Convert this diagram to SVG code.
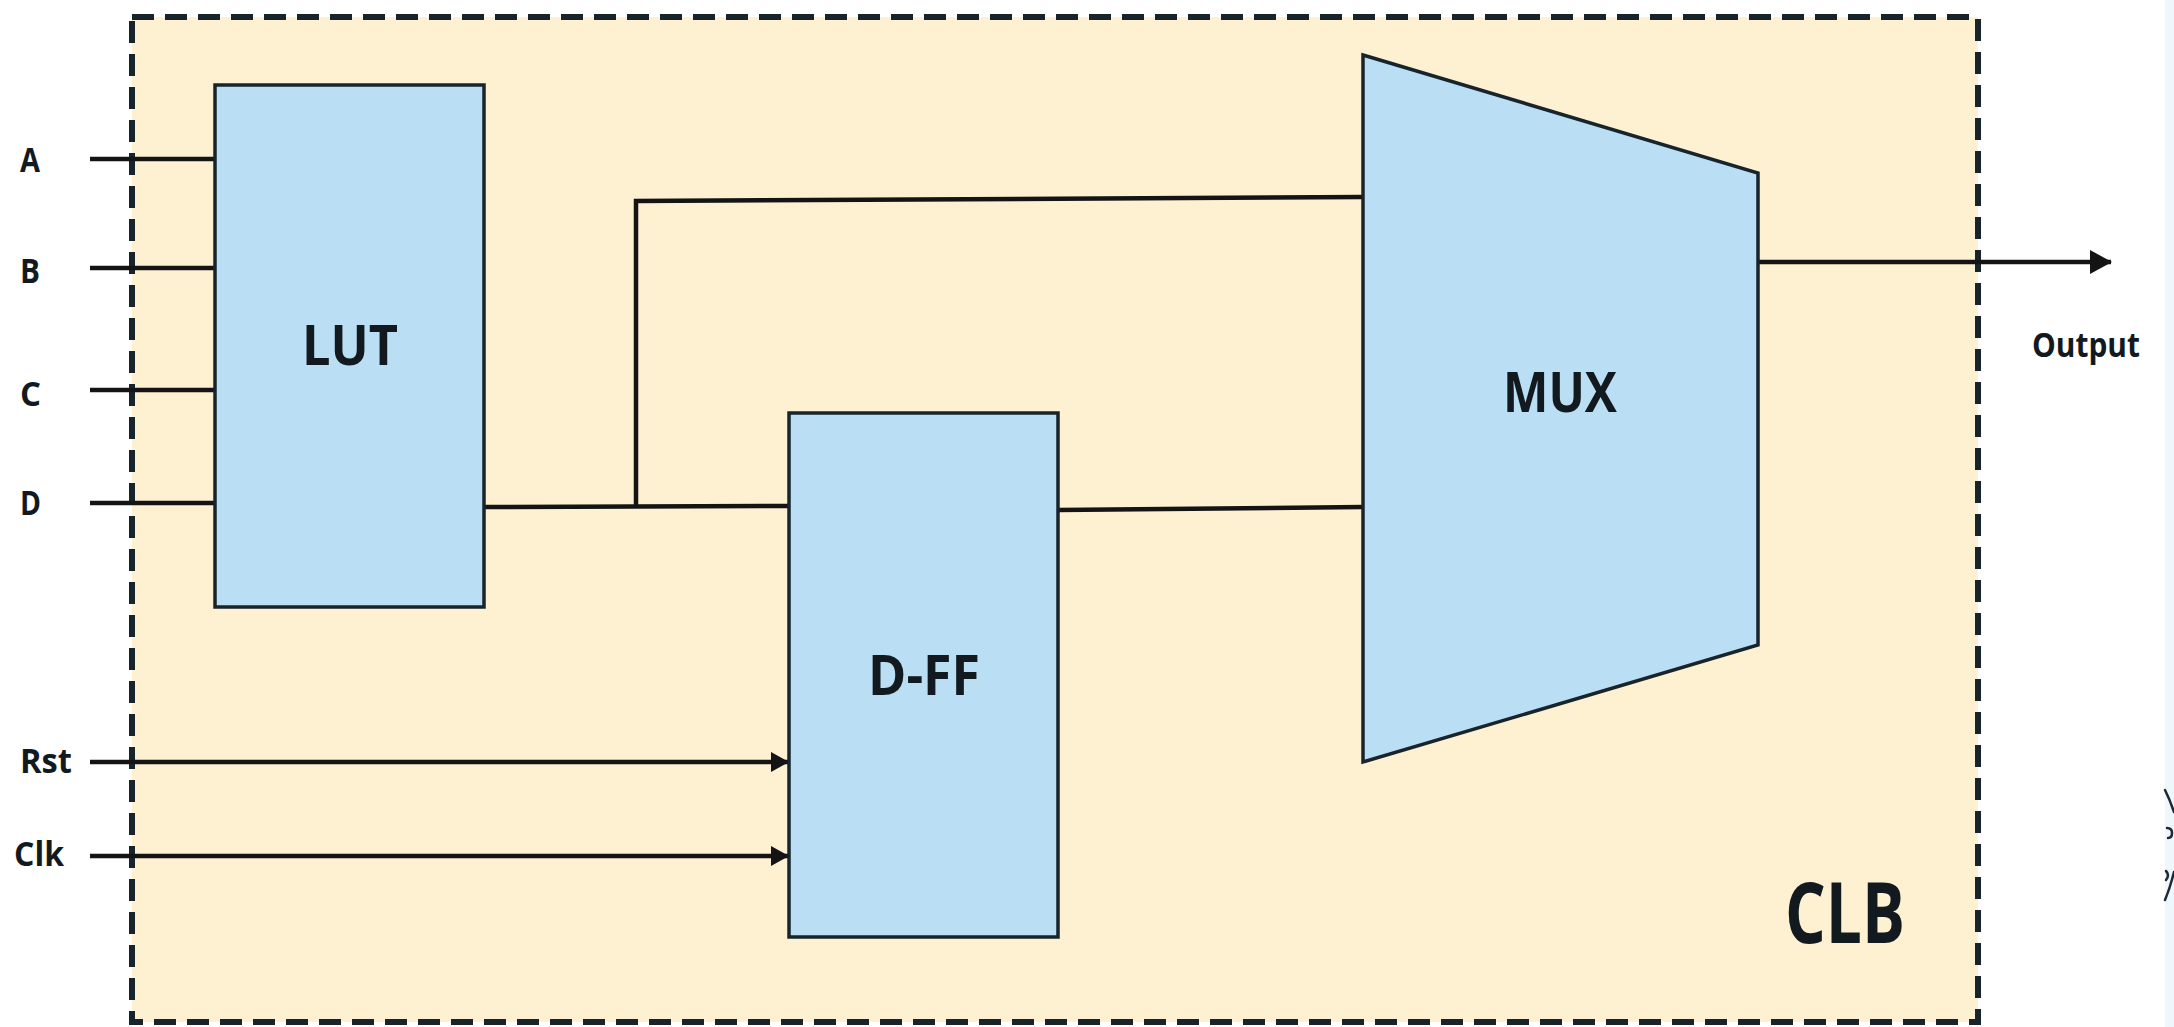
<svg xmlns="http://www.w3.org/2000/svg" width="2174" height="1027" viewBox="0 0 2174 1027">
<style>
.block{fill:#BADEF4;stroke:#17242b;stroke-width:3.5;stroke-linejoin:miter}
.wire{fill:none;stroke:#141414;stroke-width:4.5}
.lbl{font-family:"Open Sans","Noto Sans","Liberation Sans",sans-serif;font-weight:bold;fill:#121a1f}
.big{font-size:56px;text-anchor:start}
.pin{font-size:34px}
</style>
<defs>
<marker id="arr" markerUnits="userSpaceOnUse" viewBox="0 0 18 20" markerWidth="18" markerHeight="20" refX="17" refY="10" orient="auto">
<path d="M0,0 L18,10 L0,20 z" fill="#141414"/>
</marker>
<marker id="arrBig" markerUnits="userSpaceOnUse" viewBox="0 0 22 24" markerWidth="22" markerHeight="24" refX="21" refY="12" orient="auto">
<path d="M0,0 L22,12 L0,24 z" fill="#141414"/>
</marker>
</defs>
<rect x="0" y="0" width="2174" height="1027" fill="#ffffff"/>
<rect x="2165" y="0" width="9" height="1027" fill="#EDF7FC"/>
<g id="edge-marks" fill="none" stroke="#1b2a3a" stroke-width="2.5" stroke-linecap="round">
<path d="M2165,790 Q2170,800 2174,812"/>
<path d="M2167,828 Q2172,828 2172,833 Q2172,838 2168,838"/>
<path d="M2166,871 Q2170,875 2166,880"/>
<path d="M2174,872 Q2170,888 2165,900"/>
</g>
<g id="clb">
<rect x="132" y="17" width="1846" height="1005" fill="#FEF1D2" stroke="#17242b" stroke-width="6" stroke-dasharray="22 11"/>
<text class="lbl" x="1785" y="943" font-size="84" textLength="120" lengthAdjust="spacingAndGlyphs">CLB</text>
</g>
<g id="connectors">
<line class="wire" x1="90" y1="159" x2="215" y2="159"/>
<line class="wire" x1="90" y1="268" x2="215" y2="268"/>
<line class="wire" x1="90" y1="390" x2="215" y2="390"/>
<line class="wire" x1="90" y1="503" x2="215" y2="503"/>
<polyline class="wire" points="484,507 789,506"/>
<polyline class="wire" points="636,506 636,201 1363,197"/>
<polyline class="wire" points="1058,510 1363,507"/>
<line class="wire" x1="90" y1="762" x2="788" y2="762" marker-end="url(#arr)"/>
<line class="wire" x1="90" y1="856" x2="788" y2="856" marker-end="url(#arr)"/>
<line class="wire" x1="1758" y1="262" x2="2111" y2="262" marker-end="url(#arrBig)"/>
</g>
<g id="lut">
<rect class="block" x="215" y="85" width="269" height="522"/>
<text class="lbl big" x="302" y="365" textLength="96" lengthAdjust="spacingAndGlyphs">LUT</text>
</g>
<g id="dff">
<rect class="block" x="789" y="413" width="269" height="524"/>
<text class="lbl big" x="868" y="695" textLength="112" lengthAdjust="spacingAndGlyphs">D-FF</text>
</g>
<g id="mux">
<polygon class="block" points="1363,55 1758,173 1758,645 1363,762"/>
<text class="lbl big" x="1503" y="412" textLength="114" lengthAdjust="spacingAndGlyphs">MUX</text>
</g>
<g id="pins">
<text class="lbl pin" x="20" y="172" textLength="20" lengthAdjust="spacingAndGlyphs">A</text>
<text class="lbl pin" x="20" y="283" textLength="20" lengthAdjust="spacingAndGlyphs">B</text>
<text class="lbl pin" x="20" y="406" textLength="21" lengthAdjust="spacingAndGlyphs">C</text>
<text class="lbl pin" x="20" y="515" textLength="21" lengthAdjust="spacingAndGlyphs">D</text>
<text class="lbl pin" x="20" y="773" textLength="52" lengthAdjust="spacingAndGlyphs">Rst</text>
<text class="lbl pin" x="14" y="866" textLength="50" lengthAdjust="spacingAndGlyphs">Clk</text>
<text class="lbl pin" x="2032" y="357" textLength="108" lengthAdjust="spacingAndGlyphs">Output</text>
</g>
</svg>
